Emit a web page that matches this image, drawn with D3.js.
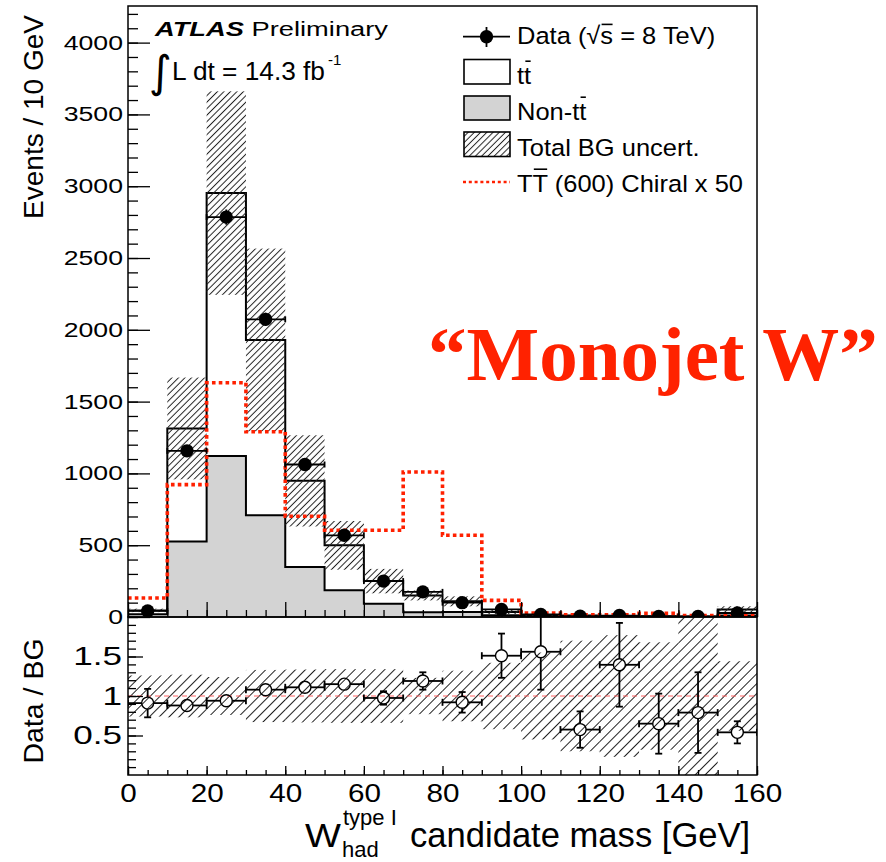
<!DOCTYPE html>
<html><head><meta charset="utf-8">
<script src="https://cdn.jsdelivr.net/npm/d3@7"></script>
<style>
html,body{margin:0;padding:0;background:#fff;}
svg{display:block;font-family:"Liberation Sans",Arial,Helvetica,sans-serif;}
</style></head><body>
<svg id="c" width="886" height="862"></svg>
<script>
// ---------------- data ----------------
const binEdges     = [0,10,20,30,40,50,60,70,80,90,100,110,120,130,140,150,160];
const dataCounts   = [42,1157,2785,2073,1062,569,250,175,100,53,18,6,10,4,3,28];
const dataErr      = [7,34,53,46,33,24,16,13,10,7,4,2.5,3,2,2,5];
const nonTtbar     = [20,525,1122,708,348,186,93,33,35,12,4,3,2,2,1,10];
const ttbar        = [26,788,1830,1221,600,313,157,117,74,23,8,7,5,4,3,42];
const bgRelUnc     = [0.26,0.27,0.24,0.33,0.335,0.34,0.34,0.23,0.32,0.42,0.55,0.7,0.77,0.68,1.2,0.44];
const signalTT600  = [132,922,1631,1290,702,604,604,1010,569,116,27,16,16,25,10,10];
const ratioDataBG  = [0.91,0.88,0.94,1.08,1.11,1.15,0.975,1.19,0.92,1.51,1.56,0.575,1.395,0.65,0.79,0.54];
const ratioErr     = [0.18,0.03,0.02,0.03,0.035,0.045,0.085,0.11,0.13,0.28,0.48,0.23,0.53,0.38,0.51,0.14];
const xTickValues  = [0,20,40,60,80,100,120,140,160];
const yTickValues  = [0,500,1000,1500,2000,2500,3000,3500,4000];
const ratioTickValues = [0.5,1,1.5];
const legendLabels = ["Data (\u221As = 8 TeV)","tt","Non-tt","Total BG uncert.","TT (600) Chiral x 50"];

// ---------------- layout ----------------
const svg = d3.select("#c");
const L=128, R=757, T=6, MB=617, RB=775;
const x  = d3.scaleLinear().domain([0,160]).range([L,R]);
const y  = d3.scaleLinear().domain([0,4255]).range([MB,T]);
const yr = d3.scaleLinear().domain([0,2]).range([RB,MB]);
const RED = "#ff2000";

const defs = svg.append("defs");
function hatch(id, s, sw){
  const p = defs.append("pattern").attr("id",id).attr("patternUnits","userSpaceOnUse")
    .attr("width",s).attr("height",s).attr("patternTransform","rotate(45)");
  p.append("line").attr("x1",s/2).attr("y1",-1).attr("x2",s/2).attr("y2",s+1)
    .attr("stroke","#222").attr("stroke-width",sw);
}
hatch("hMain",4.6,1);
hatch("hRatio",7,1);
hatch("hLeg",4.4,1);
defs.append("clipPath").attr("id","clipMain").append("rect").attr("x",L).attr("y",T).attr("width",R-L).attr("height",MB-T);
defs.append("clipPath").attr("id","clipRatio").append("rect").attr("x",L).attr("y",MB).attr("width",R-L).attr("height",RB-MB);

const n = dataCounts.length;
const bins = d3.range(n).map(i=>({
  lo: binEdges[i], hi: binEdges[i+1], c:(binEdges[i]+binEdges[i+1])/2,
  data: dataCounts[i], err: dataErr[i], non: nonTtbar[i], tot: nonTtbar[i]+ttbar[i],
  rel: bgRelUnc[i], sig: signalTT600[i], r: ratioDataBG[i], re: ratioErr[i]
}));
function stepPts(acc){
  const p = bins.map(b=>({e:b.lo, v:acc(b)}));
  p.push({e:binEdges[n], v:acc(bins[n-1])});
  return p;
}

// ---------------- main panel ----------------
const gm = svg.append("g").attr("clip-path","url(#clipMain)");
gm.append("path").datum(stepPts(b=>b.non))
  .attr("d", d3.area().x(d=>x(d.e)).y0(y(0)).y1(d=>y(d.v)).curve(d3.curveStepAfter))
  .attr("fill","#d3d3d3");
const stackPts = bins.map(b=>({e:b.lo, a:b.non, t:b.tot}));
stackPts.push({e:binEdges[n], a:bins[n-1].non, t:bins[n-1].tot});
gm.append("path").datum(stackPts)
  .attr("d", d3.area().x(d=>x(d.e)).y0(d=>y(d.a)).y1(d=>y(d.t)).curve(d3.curveStepAfter))
  .attr("fill","#fff");
const stepLine = d3.line().x(d=>x(d.e)).y(d=>y(d.v)).curve(d3.curveStepAfter);
gm.append("path").datum(stepPts(b=>b.non)).attr("d",stepLine).attr("fill","none").attr("stroke","#000").attr("stroke-width",2);
gm.append("path").datum(stepPts(b=>b.tot)).attr("d",stepLine).attr("fill","none").attr("stroke","#000").attr("stroke-width",2);
gm.selectAll("rect.band").data(bins).join("rect").attr("class","band")
  .attr("x",b=>x(b.lo)).attr("width",b=>x(b.hi)-x(b.lo))
  .attr("y",b=>y(b.tot*(1+b.rel))).attr("height",b=>y(b.tot*(1-b.rel))-y(b.tot*(1+b.rel)))
  .attr("fill","url(#hMain)");
gm.append("path").datum(stepPts(b=>b.sig)).attr("d",stepLine).attr("fill","none")
  .attr("stroke",RED).attr("stroke-width",3.6).attr("stroke-dasharray","3.6,3.2");
const gd = gm.append("g").attr("stroke","#000").attr("stroke-width",1.8);
bins.forEach(b=>{
  const cy=y(b.data);
  gd.append("line").attr("x1",x(b.lo)).attr("x2",x(b.hi)).attr("y1",cy).attr("y2",cy);
  [b.lo,b.hi].forEach(e=>gd.append("line").attr("x1",x(e)).attr("x2",x(e)).attr("y1",cy-3).attr("y2",cy+3));
  gd.append("line").attr("x1",x(b.c)).attr("x2",x(b.c)).attr("y1",y(b.data+b.err)).attr("y2",y(b.data-b.err));
  gd.append("circle").attr("cx",x(b.c)).attr("cy",cy).attr("r",6.7).attr("fill","#000").attr("stroke","none");
});

// ---------------- ratio panel ----------------
const gr = svg.append("g").attr("clip-path","url(#clipRatio)");
gr.selectAll("rect.rband").data(bins).join("rect").attr("class","rband")
  .attr("x",b=>x(b.lo)).attr("width",b=>x(b.hi)-x(b.lo))
  .attr("y",b=>yr(1+b.rel)).attr("height",b=>yr(1-b.rel)-yr(1+b.rel))
  .attr("fill","url(#hRatio)");
gr.append("line").attr("x1",L).attr("x2",R).attr("y1",yr(1)).attr("y2",yr(1))
  .attr("stroke","#ff6060").attr("stroke-width",1.2).attr("stroke-dasharray","5,4");
const grp = gr.append("g").attr("stroke","#000").attr("stroke-width",1.8);
const rr = 6;
bins.forEach(b=>{
  const cx=x(b.c), cy=yr(b.r);
  grp.append("line").attr("x1",x(b.lo)).attr("x2",cx-rr).attr("y1",cy).attr("y2",cy);
  grp.append("line").attr("x1",cx+rr).attr("x2",x(b.hi)).attr("y1",cy).attr("y2",cy);
  [b.lo,b.hi].forEach(e=>grp.append("line").attr("x1",x(e)).attr("x2",x(e)).attr("y1",cy-3.5).attr("y2",cy+3.5));
  const yt=yr(b.r+b.re), yb=yr(b.r-b.re);
  if (cy-yt>rr){
    grp.append("line").attr("x1",cx).attr("x2",cx).attr("y1",yt).attr("y2",cy-rr);
    grp.append("line").attr("x1",cx).attr("x2",cx).attr("y1",yb).attr("y2",cy+rr);
    [yt,yb].forEach(v=>grp.append("line").attr("x1",cx-3.5).attr("x2",cx+3.5).attr("y1",v).attr("y2",v));
  }
  grp.append("circle").attr("cx",cx).attr("cy",cy).attr("r",rr).attr("fill","none").attr("stroke-width",1.4);
});

// ---------------- axes ----------------
function styleAxis(g){ g.select(".domain").remove(); g.selectAll("line").attr("stroke","#000").attr("stroke-width",1.3); }
const gy1 = svg.append("g").attr("transform",`translate(${L},0)`)
  .call(d3.axisLeft(y).tickValues(d3.range(0,4201,100)).tickSize(-10).tickFormat(""));
styleAxis(gy1);
const gy2 = svg.append("g").attr("transform",`translate(${L},0)`)
  .call(d3.axisLeft(y).tickValues(yTickValues).tickSize(-22).tickPadding(5).tickFormat(d3.format("d")));
styleAxis(gy2);
gy2.selectAll("text").attr("font-size",20.5).attr("fill","#000").attr("font-family",null)
  .attr("x",-5/1.3).attr("transform","scale(1.3,1)");
const gx1 = svg.append("g").attr("transform",`translate(0,${MB})`)
  .call(d3.axisBottom(x).tickValues(d3.range(0,161,5)).tickSize(-7).tickFormat(""));
styleAxis(gx1);
const gx2 = svg.append("g").attr("transform",`translate(0,${MB})`)
  .call(d3.axisBottom(x).tickValues(xTickValues).tickSize(-15).tickFormat(""));
styleAxis(gx2);
const gry1 = svg.append("g").attr("transform",`translate(${L},0)`)
  .call(d3.axisLeft(yr).tickValues(d3.range(1,20).map(k=>k/10)).tickSize(-8).tickFormat(""));
styleAxis(gry1);
const gry2 = svg.append("g").attr("transform",`translate(${L},0)`)
  .call(d3.axisLeft(yr).tickValues(ratioTickValues).tickSize(-15).tickPadding(6).tickFormat(d3.format("")));
styleAxis(gry2);
gry2.selectAll("text").attr("font-size",26).attr("fill","#000").attr("font-family",null)
  .attr("x",-6/1.35).attr("transform","scale(1.35,1)");
const grx1 = svg.append("g").attr("transform",`translate(0,${RB})`)
  .call(d3.axisBottom(x).tickValues(d3.range(0,161,5)).tickSize(-5).tickFormat(""));
styleAxis(grx1);
const grx2 = svg.append("g").attr("transform",`translate(0,${RB})`)
  .call(d3.axisBottom(x).tickValues(xTickValues).tickSize(-9).tickFormat(d3.format("d")));
styleAxis(grx2);
grx2.selectAll("text").attr("font-size",26.5).attr("fill","#000").attr("font-family",null)
  .attr("y",27).attr("dy",null).attr("transform","scale(1.12,1)");

svg.append("rect").attr("x",L).attr("y",T).attr("width",R-L).attr("height",MB-T).attr("fill","none").attr("stroke","#000").attr("stroke-width",1.5);
svg.append("rect").attr("x",L).attr("y",MB).attr("width",R-L).attr("height",RB-MB).attr("fill","none").attr("stroke","#000").attr("stroke-width",1.5);

// ---------------- texts ----------------
function label(xp, yp, sx, fs, str){
  const g = svg.append("g").attr("transform",`translate(${xp},${yp}) scale(${sx},1)`);
  const t = g.append("text").attr("font-size",fs).attr("fill","#000").text(str);
  return {g,t};
}
function overbar(g, t, i, k, fs){
  const node=t.node();
  const s=node.getStartPositionOfChar(i), e=node.getEndPositionOfChar(i);
  g.append("line").attr("x1",s.x+fs*0.05).attr("x2",e.x-fs*0.02).attr("y1",-k*fs).attr("y2",-k*fs)
    .attr("stroke","#000").attr("stroke-width",fs*0.065);
}
svg.append("text").attr("transform","translate(43,15) rotate(-90)").attr("text-anchor","end")
  .attr("font-size",28).text("Events / 10 GeV");
svg.append("text").attr("transform","translate(43,701) rotate(-90)").attr("text-anchor","middle")
  .attr("font-size",28.5).text("Data / BG");
label(305,847,1.12,34,"W");
svg.append("text").attr("x",343).attr("y",825).attr("font-size",22).text("type I");
svg.append("text").attr("x",342).attr("y",857).attr("font-size",22).text("had");
svg.append("text").attr("x",410).attr("y",847).attr("font-size",34.6).text("candidate mass [GeV]");

{
  const g = svg.append("g").attr("transform","translate(155,36) scale(1.3,1)");
  const t = g.append("text").attr("font-size",21);
  t.append("tspan").attr("font-weight","bold").attr("font-style","italic").text("ATLAS");
  t.append("tspan").text(" Preliminary");
}
svg.append("text").attr("x",149).attr("y",87).attr("font-size",44).attr("font-family","'DejaVu Sans'").text("\u222B");
{
  const sx=1.05, fs=25;
  const {t}=label(172,80,sx,fs,"L dt = 14.3 fb");
  const w=t.node().getComputedTextLength()*sx;
  svg.append("text").attr("x",172+w+3).attr("y",65).attr("font-size",15).text("-1");
}

// legend
const LX=463, LW=47, TX=517, LFS=24.5, LSX=1.04;
svg.append("line").attr("x1",LX).attr("x2",LX+LW).attr("y1",36.7).attr("y2",36.7).attr("stroke","#000").attr("stroke-width",1.8);
svg.append("line").attr("x1",LX+LW/2).attr("x2",LX+LW/2).attr("y1",27).attr("y2",47).attr("stroke","#000").attr("stroke-width",1.8);
svg.append("circle").attr("cx",LX+LW/2).attr("cy",36.7).attr("r",6.7).attr("fill","#000");
{ const {g,t}=label(TX,44,LSX,LFS,legendLabels[0]); overbar(g,t,7,0.8,LFS); }
svg.append("rect").attr("x",LX+1).attr("y",59.5).attr("width",LW-1).attr("height",24.5).attr("fill","#fff").attr("stroke","#000").attr("stroke-width",1.6);
{ const {g,t}=label(TX,84,LSX,LFS,legendLabels[1]); overbar(g,t,1,0.93,LFS); }
svg.append("rect").attr("x",LX+1).attr("y",96).attr("width",LW-1).attr("height",24).attr("fill","#d3d3d3").attr("stroke","#000").attr("stroke-width",1.6);
{ const {g,t}=label(TX,120,LSX,LFS,legendLabels[2]); overbar(g,t,5,0.93,LFS); }
svg.append("rect").attr("x",LX+1).attr("y",132).attr("width",LW-1).attr("height",24.5).attr("fill","url(#hLeg)").attr("stroke","#000").attr("stroke-width",1.6);
label(TX,156,LSX,LFS,legendLabels[3]);
svg.append("line").attr("x1",LX).attr("x2",LX+LW).attr("y1",182).attr("y2",182)
  .attr("stroke",RED).attr("stroke-width",2.6).attr("stroke-dasharray","3,2.8");
{ const {g,t}=label(TX,192,LSX,LFS,legendLabels[4]); overbar(g,t,1,0.93,LFS); }

svg.append("text").attr("x",428).attr("y",380).attr("font-family","'Liberation Serif','Times New Roman',serif")
  .attr("font-weight","bold").attr("font-size",77).attr("fill","#ff2200").text("\u201CMonojet W\u201D");
</script>
</body></html>
